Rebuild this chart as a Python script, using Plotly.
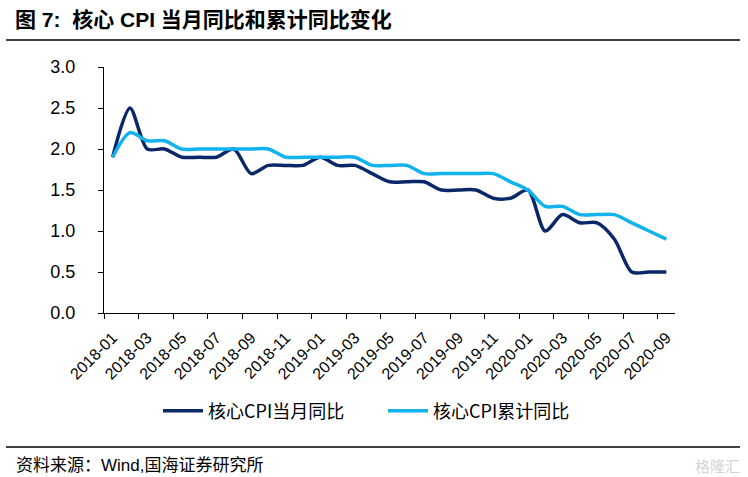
import plotly.graph_objects as go

months = [f"{y}-{m:02d}" for y in (2018, 2019) for m in range(1, 13)] + [f"2020-{m:02d}" for m in range(1, 10)]

core_cpi_month = [1.9, 2.5, 2.0, 2.0, 1.9, 1.9, 1.9, 2.0, 1.7, 1.8, 1.8, 1.8,
                  1.9, 1.8, 1.8, 1.7, 1.6, 1.6, 1.6, 1.5, 1.5, 1.5, 1.4, 1.4,
                  1.5, 1.0, 1.2, 1.1, 1.1, 0.9, 0.5, 0.5, 0.5]
core_cpi_cum = [1.9, 2.2, 2.1, 2.1, 2.0, 2.0, 2.0, 2.0, 2.0, 2.0, 1.9, 1.9,
                1.9, 1.9, 1.9, 1.8, 1.8, 1.8, 1.7, 1.7, 1.7, 1.7, 1.7, 1.6,
                1.5, 1.3, 1.3, 1.2, 1.2, 1.2, 1.1, 1.0, 0.9]

series_names = ["核心CPI当月同比", "核心CPI累计同比"]
y_ticks = [0.0, 0.5, 1.0, 1.5, 2.0, 2.5, 3.0]
title_text = "图 7:  核心 CPI 当月同比和累计同比变化"
source_text = "资料来源：Wind,国海证券研究所"

W, H = 748, 477
ML, MR, MT, MB = 104, 73, 67, 164
PW, PH = W - ML - MR, H - MT - MB

def px(x):
    return (x - ML) / PW

def py(y):
    return (H - MB - y) / PH

fig = go.Figure()
fig.add_trace(go.Scatter(x=months, y=core_cpi_month, name=series_names[0], mode="lines",
                         line=dict(color="#0A2868", width=3.5, shape="spline", smoothing=0.8)))
fig.add_trace(go.Scatter(x=months, y=core_cpi_cum, name=series_names[1], mode="lines",
                         line=dict(color="#12B2EE", width=3.5, shape="spline", smoothing=0.8)))

fig.update_layout(
    width=W, height=H,
    margin=dict(l=ML, r=MR, t=MT, b=MB),
    paper_bgcolor="white", plot_bgcolor="white",
    showlegend=True,
    legend=dict(orientation="h", x=px(158), xanchor="left", y=py(411), yanchor="middle",
                font=dict(family="Noto Sans CJK SC", size=18, color="black"),
                itemwidth=40, entrywidth=170, bgcolor="rgba(0,0,0,0)"),
    xaxis=dict(type="category", tickson="boundaries", dtick=2, tick0=0,
               range=[-0.5, len(months) - 0.5],
               showline=True, linecolor="black", linewidth=1.2,
               ticks="outside", ticklen=5, tickcolor="black",
               tickangle=-45, showgrid=False, zeroline=False, ticklabelstandoff=8,
               tickfont=dict(family="Liberation Sans, Arial", size=16, color="black")),
    yaxis=dict(range=[0, 3], tickvals=y_ticks, ticktext=[f"{v:.1f}" for v in y_ticks],
               showline=True, linecolor="black", linewidth=1.2,
               ticks="outside", ticklen=5, tickcolor="black",
               showgrid=False, zeroline=False, ticklabelstandoff=19,
               tickfont=dict(family="Liberation Sans, Arial", size=18, color="black")),
)

fig.add_annotation(text=f"<b>{title_text}</b>", xref="paper", yref="paper",
                   x=px(13), y=py(19), xanchor="left", yanchor="middle", showarrow=False,
                   font=dict(family="Liberation Sans, Noto Sans CJK SC", size=21, color="black"))
fig.add_annotation(text=source_text, xref="paper", yref="paper",
                   x=px(14), y=py(465), xanchor="left", yanchor="middle", showarrow=False,
                   font=dict(family="Liberation Sans, Noto Sans CJK SC", size=17, color="black"))
fig.add_annotation(text="格隆汇", xref="paper", yref="paper",
                   x=px(742), y=py(465), xanchor="right", yanchor="middle", showarrow=False,
                   font=dict(family="Noto Sans CJK SC", size=15, color="#d4d4d4"))

fig.add_shape(type="line", xref="paper", yref="paper", x0=px(6), x1=px(740), y0=py(40), y1=py(40),
              line=dict(color="black", width=1.5))
fig.add_shape(type="line", xref="paper", yref="paper", x0=px(6), x1=px(740), y0=py(447), y1=py(447),
              line=dict(color="black", width=1.5))

fig.write_html("out.html", config={"displayModeBar": False})

with open("out.html", "r", encoding="utf-8") as f:
    html = f.read()
html = html.replace("<head>", "<head><style>html,body{margin:0;padding:0;overflow:hidden;}</style>", 1)
with open("out.html", "w", encoding="utf-8") as f:
    f.write(html)
